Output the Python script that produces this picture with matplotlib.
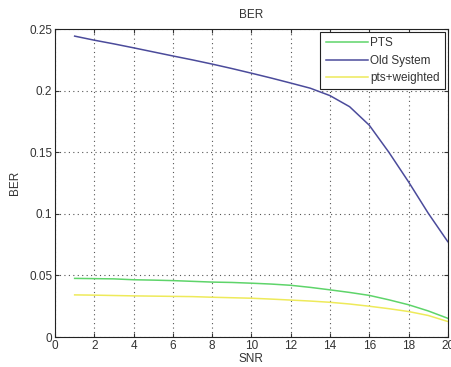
import matplotlib
matplotlib.use("Agg")
import matplotlib.pyplot as plt

snr = list(range(1, 21))
pts = [0.0476, 0.0474, 0.0472, 0.0465, 0.0462, 0.0458, 0.0452, 0.0446, 0.0443, 0.0437,
       0.0430, 0.0420, 0.0403, 0.0383, 0.0362, 0.0338, 0.0302, 0.0262, 0.0212, 0.0152]
old = [0.2443, 0.2410, 0.2380, 0.2348, 0.2315, 0.2282, 0.2250, 0.2216, 0.2180, 0.2142,
       0.2103, 0.2062, 0.2020, 0.1960, 0.1870, 0.1720, 0.1500, 0.1260, 0.1006, 0.0774]
weighted = [0.0342, 0.0340, 0.0337, 0.0334, 0.0332, 0.0330, 0.0328, 0.0323, 0.0319, 0.0315,
            0.0308, 0.0300, 0.0292, 0.0282, 0.0268, 0.0250, 0.0230, 0.0207, 0.0175, 0.0126]

xticks = list(range(0, 21, 2))
yticks = [0, 0.05, 0.1, 0.15, 0.2, 0.25]
ytick_labels = ["0", "0.05", "0.1", "0.15", "0.2", "0.25"]

plt.rcParams['font.family'] = ['Liberation Sans', 'DejaVu Sans']
fig = plt.figure(figsize=(4.52, 3.67), dpi=100)
ax = fig.add_axes([0.1217, 0.0817, 0.869, 0.839])

ax.plot(snr, pts, color='#5ed46a', lw=1.1, label='PTS')
ax.plot(snr, old, color='#4b4b9b', lw=1.1, label='Old System')
ax.plot(snr, weighted, color='#eeea5a', lw=1.1, label='pts+weighted')

ax.set_xlim(0, 20)
ax.set_ylim(0, 0.25)
ax.set_xticks(xticks)
ax.set_xticklabels([str(t) for t in xticks])
ax.set_yticks(yticks)
ax.set_yticklabels(ytick_labels)
ax.grid(True, linestyle=(0, (1, 3)), color='#555555', lw=0.8)
ax.tick_params(direction='in', top=True, right=True, labelsize=8.5, length=3, pad=2, colors='#333333')
for s in ax.spines.values():
    s.set_color('#222222')
    s.set_linewidth(0.8)

ax.set_title('BER', fontsize=8.5, pad=8, color='#333333')
ax.set_xlabel('SNR', fontsize=8.5, labelpad=1, color='#333333')
ax.set_ylabel('BER', fontsize=8.5, labelpad=6, color='#333333')

leg = ax.legend(loc='upper right', fontsize=8.5, frameon=True, fancybox=False,
                edgecolor='#222222', framealpha=1, borderaxespad=0.25,
                handlelength=3.6, handletextpad=0.15, labelspacing=0.45, borderpad=0.45)
leg.get_frame().set_linewidth(0.8)
for t in leg.get_texts():
    t.set_color('#333333')

fig.savefig('out.png', dpi=100)
